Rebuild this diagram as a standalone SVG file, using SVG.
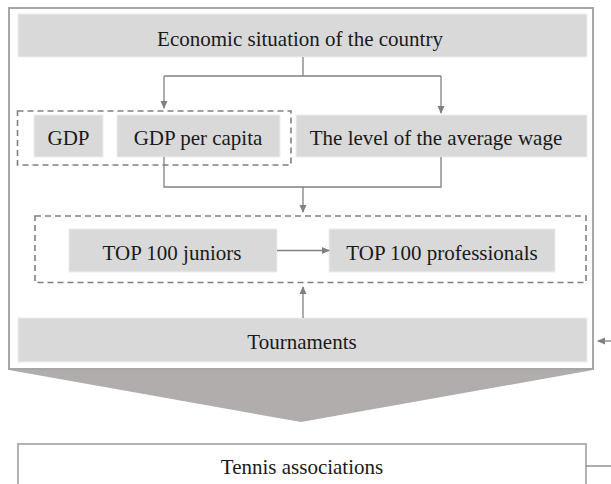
<svg xmlns="http://www.w3.org/2000/svg" width="611" height="484" viewBox="0 0 611 484">
<style>
  .box { fill: #d9d9d9; stroke: #eeeeee; stroke-width: 1; }
  .frame { fill: #ffffff; stroke: #a6a6a6; stroke-width: 2; }
  .dash { fill: none; stroke: #808080; stroke-width: 1.6; stroke-dasharray: 6 4; }
  .ln { fill: none; stroke: #808080; stroke-width: 1.3; }
  .t { font-family: "Liberation Serif", "Times New Roman", serif; font-size: 21px; fill: #1a1a1a; text-anchor: middle; }
</style>
<defs>
  <marker id="ah" markerWidth="8" markerHeight="8" refX="7" refY="4" orient="auto" markerUnits="userSpaceOnUse">
    <path d="M0,0.5 L8,4 L0,7.5 Z" fill="#808080"/>
  </marker>
</defs>
<rect width="611" height="484" fill="#ffffff"/>
<g id="frame">
  <rect class="frame" x="9" y="8" width="584" height="361"/>
</g>
<g id="chevron">
  <polygon points="9,370 593,370 301,422" fill="#b0adac"/>
</g>
<g id="economic">
  <rect class="box" x="18" y="14" width="569" height="43"/>
  <text class="t" x="300" y="46">Economic situation of the country</text>
</g>
<g id="gdp-group">
  <rect class="dash" x="17.5" y="111" width="273.5" height="54"/>
</g>
<g id="gdp">
  <rect class="box" x="34" y="115" width="69" height="42"/>
  <text class="t" x="68.5" y="145">GDP</text>
</g>
<g id="gdp-per-capita">
  <rect class="box" x="117" y="115" width="163" height="42"/>
  <text class="t" x="198" y="145">GDP per capita</text>
</g>
<g id="average-wage">
  <rect class="box" x="296" y="115" width="291" height="42"/>
  <text class="t" x="436" y="145">The level of the average wage</text>
</g>
<g id="top-group">
  <rect class="dash" x="35" y="216" width="551" height="66.5"/>
</g>
<g id="top-juniors">
  <rect class="box" x="69" y="229" width="208" height="43"/>
  <text class="t" x="172" y="260">TOP 100 juniors</text>
</g>
<g id="top-professionals">
  <rect class="box" x="329" y="229" width="226" height="43"/>
  <text class="t" x="442" y="260">TOP 100 professionals</text>
</g>
<g id="tournaments">
  <rect class="box" x="18" y="318" width="569" height="44"/>
  <text class="t" x="302" y="349">Tournaments</text>
</g>
<g id="tennis-associations">
  <rect x="18" y="444" width="568" height="50" fill="#ffffff" stroke="#b3b3b3" stroke-width="2"/>
  <text class="t" x="302" y="474">Tennis associations</text>
</g>
<g id="connectors">
  <path class="ln" d="M303,57 V76 M164,76 H441"/>
  <path class="ln" d="M164,76 V108" marker-end="url(#ah)"/>
  <path class="ln" d="M441,76 V113" marker-end="url(#ah)"/>
  <path class="ln" d="M164,157 V187 H441 V157"/>
  <path class="ln" d="M303,187 V212" marker-end="url(#ah)"/>
  <path class="ln" d="M277,250.5 H329" marker-end="url(#ah)"/>
  <path class="ln" d="M303,318 V287" marker-end="url(#ah)"/>
  <path class="ln" d="M586,466 H611"/>
  <path class="ln" d="M611,341 H598" marker-end="url(#ah)"/>
</g>
</svg>
